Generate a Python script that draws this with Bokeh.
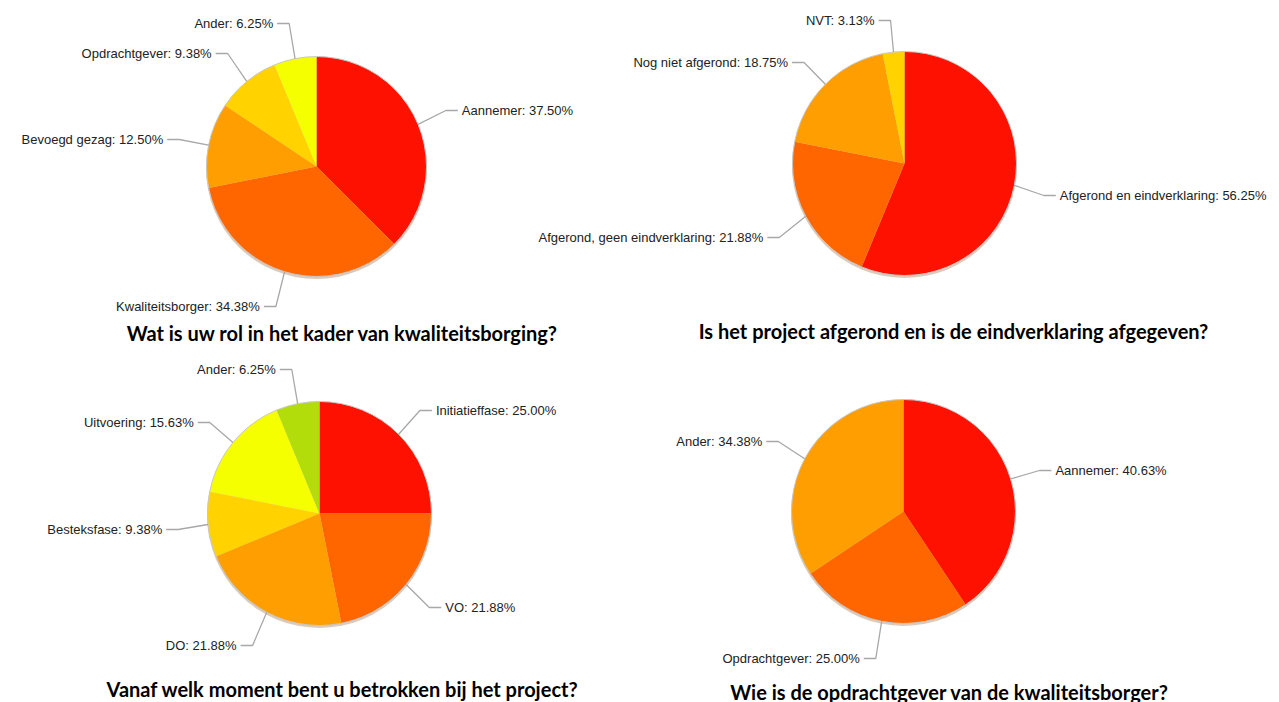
import math
from bokeh.plotting import figure
from bokeh.models import Range1d, ColumnDataSource
from bokeh.core.properties import value
from bokeh.embed import file_html
from bokeh.resources import INLINE

# ---------------- data ----------------
q1_title = "Wat is uw rol in het kader van kwaliteitsborging?"
q1_labels = ["Aannemer", "Kwaliteitsborger", "Bevoegd gezag", "Opdrachtgever", "Ander"]
q1_values = [37.50, 34.38, 12.50, 9.38, 6.25]

q2_title = "Is het project afgerond en is de eindverklaring afgegeven?"
q2_labels = ["Afgerond en eindverklaring", "Afgerond, geen eindverklaring",
             "Nog niet afgerond", "NVT"]
q2_values = [56.25, 21.88, 18.75, 3.13]

q3_title = "Vanaf welk moment bent u betrokken bij het project?"
q3_labels = ["Initiatieffase", "VO", "DO", "Besteksfase", "Uitvoering", "Ander"]
q3_values = [25.00, 21.88, 21.88, 9.38, 15.63, 6.25]

q4_title = "Wie is de opdrachtgever van de kwaliteitsborger?"
q4_labels = ["Aannemer", "Opdrachtgever", "Ander"]
q4_values = [40.63, 25.00, 34.38]

# ---------------- layout / style ----------------
palette = ["#FF1100", "#FF6600", "#FF9E00", "#FFD200", "#F5FF00", "#B2DD0A"]
W, H = 1279, 702
TOP = 702  # page coords -> data y = TOP - page_y

# (center x, center y, radius, label y per slice, title x, title y)
layouts = [
    dict(cx=316, cy=166, r=110, label_y=[110, 306, 139, 53, 23], tx=342, ty=332),
    dict(cx=904, cy=163, r=112, label_y=[195, 237, 62, 20], tx=953, ty=330),
    dict(cx=319, cy=513, r=112, label_y=[410, 607, 645, 529, 422, 369], tx=342, ty=688),
    dict(cx=903, cy=511, r=112, label_y=[470, 658, 441], tx=949, ty=691),
]
charts = [
    (q1_title, q1_labels, q1_values),
    (q2_title, q2_labels, q2_values),
    (q3_title, q3_labels, q3_values),
    (q4_title, q4_labels, q4_values),
]

p = figure(width=W, height=H, x_range=Range1d(0, W), y_range=Range1d(TOP - H, TOP),
           output_backend="svg", toolbar_location=None, min_border=0)
p.axis.visible = False
p.grid.visible = False
p.outline_line_color = None
p.background_fill_color = "white"
p.border_fill_color = "white"

for (title, labels, values), lay in zip(charts, layouts):
    cx, cy, r = lay["cx"], TOP - lay["cy"], lay["r"]
    total = sum(values)
    # shadow + outline
    p.circle(x=[cx], y=[cy - 2], radius=r + 0.5, fill_color="#9a6a40", fill_alpha=0.35,
             line_color=None)
    starts, ends, cols = [], [], []
    cum = 0.0
    lx, ly, ltext, lalign = [], [], [], []
    segx, segy = [], []
    for i, v in enumerate(values):
        f0 = cum / total
        cum += v
        f1 = cum / total
        starts.append(math.pi / 2 - 2 * math.pi * f1)
        ends.append(math.pi / 2 - 2 * math.pi * f0)
        cols.append(palette[i % len(palette)])
        # label leader
        fm = (f0 + f1) / 2
        th = 2 * math.pi * fm  # clockwise from 12 o'clock
        dx, dy = math.sin(th), math.cos(th)
        ex, ey = cx + r * dx, cy + r * dy
        elx = ex + 30 * dx
        ely = TOP - lay["label_y"][i]
        side = 1 if dx >= 0 else -1
        hx = elx + side * 12
        segx.append([ex, elx, hx])
        segy.append([ey, ely, ely])
        lx.append(hx + side * 4)
        ly.append(ely)
        ltext.append(f"{labels[i]}: {v:.2f}%")
        lalign.append("left" if side > 0 else "right")
    src = ColumnDataSource(dict(s=starts, e=ends, c=cols))
    p.wedge(x=cx, y=cy, radius=r, start_angle="s", end_angle="e", fill_color="c",
            line_color=None, source=src)
    p.circle(x=[cx], y=[cy], radius=r, fill_color=None, line_color="#c8c8c8", line_width=1)
    p.multi_line(xs=segx, ys=segy, line_color="#a8a8a8", line_width=1.3)
    lsrc = ColumnDataSource(dict(x=lx, y=ly, t=ltext, a=lalign))
    p.text(x="x", y="y", text="t", text_align="a", text_baseline="middle",
           text_font=value("Liberation Sans"), text_font_size="13px", text_color="#222222",
           source=lsrc)
    p.text(x=[lay["tx"]], y=[TOP - lay["ty"]], text=[title], text_align="center",
           text_baseline="middle", text_font=value("Lato"), text_font_style="bold",
           text_font_size="20px", text_color="#000000")

open("out.html", "w").write(file_html(p, INLINE))
